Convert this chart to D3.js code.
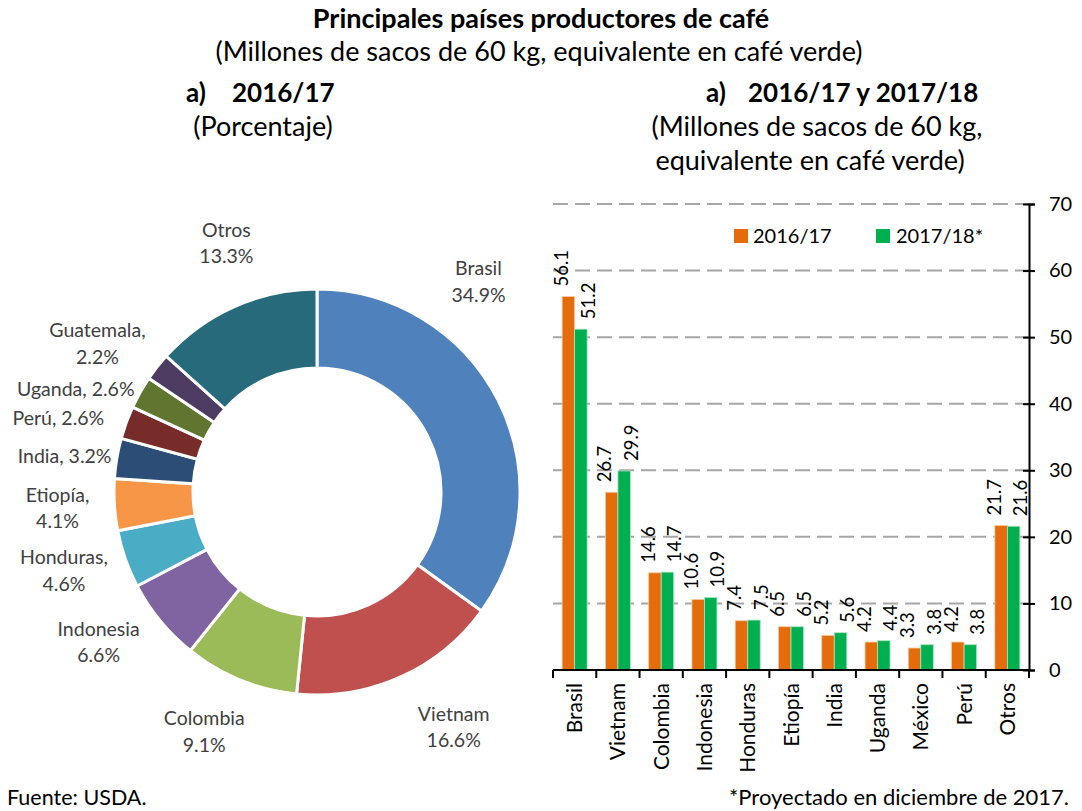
<!DOCTYPE html>
<html>
<head>
<meta charset="utf-8">
<script src="https://cdn.jsdelivr.net/npm/d3@7"></script>
<style>
  html, body { margin: 0; padding: 0; background: #fff; }
  svg { display: block; font-family: Lato, "Open Sans", sans-serif; }
</style>
</head>
<body>
<svg id="chart" width="1082" height="811"></svg>
<script>
// ---------- DATA ----------
const pieNames   = ["Brasil","Vietnam","Colombia","Indonesia","Honduras","Etiopía","India","Perú","Uganda","Guatemala","Otros"];
const pieShares  = [34.9, 16.6, 9.1, 6.6, 4.6, 4.1, 3.2, 2.6, 2.6, 2.2, 13.3];
const pieLabels  = [["Brasil","34.9%"],["Vietnam","16.6%"],["Colombia","9.1%"],["Indonesia","6.6%"],
                    ["Honduras,","4.6%"],["Etiopía,","4.1%"],["India, 3.2%"],["Perú, 2.6%"],
                    ["Uganda, 2.6%"],["Guatemala,","2.2%"],["Otros","13.3%"]];
const pieColors  = ["#4F81BD","#C0504D","#9BBB59","#8064A2","#4BACC6","#F79646","#2C4D75","#772C2A","#5F7530","#4D3B62","#276A7C"];

const barCategories = ["Brasil","Vietnam","Colombia","Indonesia","Honduras","Etiopía","India","Uganda","México","Perú","Otros"];
const series2016 = [56.1, 26.7, 14.6, 10.6, 7.4, 6.5, 5.2, 4.2, 3.3, 4.2, 21.7];
const series2017 = [51.2, 29.9, 14.7, 10.9, 7.5, 6.5, 5.6, 4.4, 3.8, 3.8, 21.6];
const seriesNames = ["2016/17","2017/18*"];
const seriesColors = ["#E46C0A","#00B050"];
const yTicks = [0,10,20,30,40,50,60,70];

// Excel-like "best fit" label placement tweaks: angle (deg) and radial offsets
const labelNudge  = [-25.4, -6, 3, 5, 2, 0, -1.4, -4.1, -6.4, -4, 4];
const labelRadial = [0, 7, 0, 0, 0, -5, -10, 4, -3, 0, 0];

// ---------- SVG ----------
const svg = d3.select("#chart");
const txt = "#000";

// Titles
svg.append("text").attr("x", 541).attr("y", 28).attr("text-anchor","middle")
  .attr("font-weight","bold").attr("font-size",27).text("Principales países productores de café");
svg.append("text").attr("x", 539).attr("y", 61).attr("text-anchor","middle")
  .attr("font-size",27).text("(Millones de sacos de 60 kg, equivalente en café verde)");

svg.append("text").attr("x", 186).attr("y", 102).attr("font-weight","bold").attr("font-size",26).text("a)");
svg.append("text").attr("x", 232).attr("y", 102).attr("font-weight","bold").attr("font-size",26).text("2016/17");
svg.append("text").attr("x", 263).attr("y", 136).attr("text-anchor","middle").attr("font-size",27).text("(Porcentaje)");

svg.append("text").attr("x", 706).attr("y", 102).attr("font-weight","bold").attr("font-size",26).text("a)");
svg.append("text").attr("x", 748).attr("y", 102).attr("font-weight","bold").attr("font-size",26).text("2016/17 y 2017/18");
svg.append("text").attr("x", 817).attr("y", 136).attr("text-anchor","middle").attr("font-size",27).text("(Millones de sacos de 60 kg,");
svg.append("text").attr("x", 810).attr("y", 170).attr("text-anchor","middle").attr("font-size",27).text("equivalente en café verde)");

svg.append("text").attr("x", 7).attr("y", 805).attr("font-size",21.5).text("Fuente: USDA.");
svg.append("text").attr("x", 1069).attr("y", 805).attr("text-anchor","end").attr("font-size",22).text("*Proyectado en diciembre de 2017.");

// ---------- DONUT ----------
const cx = 317, cy = 492, R = 203, r = 124, rLabel = 265;
const pieData = pieNames.map((n,i) => ({name:n, value:pieShares[i], i}));
const pie = d3.pie().value(d => d.value).sort(null);
const arcs = pie(pieData);
const arc = d3.arc().innerRadius(r).outerRadius(R);
const gPie = svg.append("g").attr("transform", `translate(${cx},${cy})`);
gPie.selectAll("path").data(arcs).join("path")
  .attr("d", arc)
  .attr("fill", d => pieColors[d.data.i])
  .attr("stroke", "#fff").attr("stroke-width", 3);

const lblG = gPie.selectAll("g.lbl").data(arcs).join("g").attr("class","lbl")
  .attr("transform", d => {
    const a = (d.startAngle + d.endAngle)/2 + labelNudge[d.data.i]*Math.PI/180;
    const rr = rLabel + labelRadial[d.data.i];
    return `translate(${rr*Math.sin(a)},${-rr*Math.cos(a)})`;
  });
lblG.each(function(d){
  const lines = pieLabels[d.data.i];
  const g = d3.select(this);
  const lh = 26.5;
  lines.forEach((t,k) => {
    g.append("text").attr("text-anchor","middle").attr("font-size",19.5).attr("fill","#404040")
      .attr("y", (k - (lines.length-1)/2)*lh).attr("dy","0.35em").text(t);
  });
});

// ---------- BARS ----------
const pLeft = 553, pRight = 1029, pTop = 204, pBottom = 670;
const x0 = d3.scaleBand().domain(barCategories).range([pLeft, pRight]).paddingInner(0).paddingOuter(0);
const x1 = d3.scaleBand().domain([0,1]).range([x0.bandwidth()*0.211, x0.bandwidth()*0.789]);
const y = d3.scaleLinear().domain([0,70]).range([pBottom, pTop]);

// grid
svg.append("g").selectAll("line").data(yTicks.filter(t => t>0)).join("line")
  .attr("x1", pLeft).attr("x2", pRight).attr("y1", d => y(d)).attr("y2", d => y(d))
  .attr("stroke","#A6A6A6").attr("stroke-width",2).attr("stroke-dasharray","15,7");

const barData = barCategories.map((c,i) => ({c, vals:[series2016[i], series2017[i]]}));
const gB = svg.append("g");
barData.forEach(d => {
  d.vals.forEach((v,s) => {
    gB.append("rect")
      .attr("x", x0(d.c) + x1(s)).attr("width", x1.bandwidth())
      .attr("y", y(v)).attr("height", y(0) - y(v))
      .attr("fill", seriesColors[s]).attr("stroke", s===0 ? "#F9C9A3" : "#A9E6C2").attr("stroke-width", 0.8);
    const lx = x0(d.c) + x1(s) + x1.bandwidth()/2 + (s===0 ? -7 : 7);
    gB.append("text")
      .attr("transform", `translate(${lx},${y(v)-10}) rotate(-90)`)
      .attr("dy","0.36em").attr("font-size",18.5).attr("fill",txt).text(v.toFixed(1));
  });
});

// right y axis
const yAxis = d3.axisRight(y).tickValues(yTicks).tickSize(6).tickPadding(14).tickFormat(d3.format("d"));
const gy = svg.append("g").attr("transform", `translate(${pRight},0)`).call(yAxis);
gy.select(".domain").attr("stroke","#000").attr("stroke-width",2);
gy.selectAll(".tick line").attr("stroke","#000").attr("stroke-width",2).attr("x1",-6);
gy.selectAll(".tick text").attr("font-size",20).attr("font-family","Lato, sans-serif").attr("fill","#000");

// bottom x axis
const gx = svg.append("g").attr("transform", `translate(0,${pBottom})`);
gx.append("line").attr("x1", pLeft).attr("x2", pRight).attr("stroke","#000").attr("stroke-width",2);
gx.selectAll("line.t").data(d3.range(barCategories.length+1)).join("line").attr("class","t")
  .attr("x1", i => pLeft + i*x0.bandwidth()).attr("x2", i => pLeft + i*x0.bandwidth())
  .attr("y1", 0).attr("y2", 8).attr("stroke","#000").attr("stroke-width",2);
gx.selectAll("text").data(barCategories).join("text")
  .attr("transform", d => `translate(${x0(d)+x0.bandwidth()/2},13) rotate(-90)`)
  .attr("text-anchor","end").attr("dy","0.36em").attr("font-size",21).attr("fill",txt).text(d => d);

// legend
const lg = svg.append("g");
[[734,753],[876,896]].forEach((p,s) => {
  lg.append("rect").attr("x", p[0]).attr("y", 229).attr("width", 14).attr("height", 14).attr("fill", seriesColors[s]);
  lg.append("text").attr("x", p[1]).attr("y", 236).attr("dy","0.36em").attr("font-size",20).attr("fill",txt).text(seriesNames[s]);
});
</script>
</body>
</html>
